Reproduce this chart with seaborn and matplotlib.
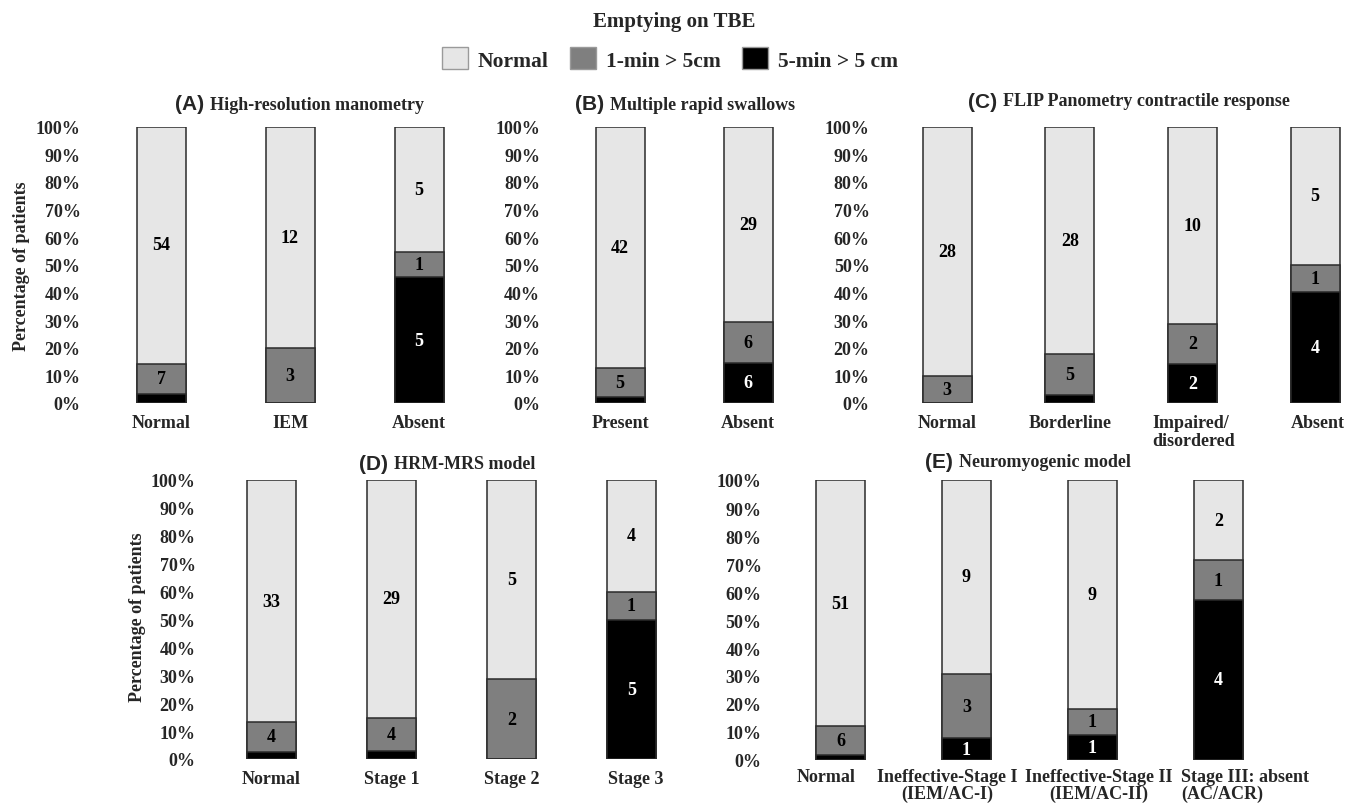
import matplotlib
matplotlib.use("Agg")
import matplotlib.pyplot as plt
from matplotlib.patches import Patch
import pandas as pd
import seaborn as sns

# counts per category: normal emptying, 1-min > 5cm, 5-min > 5 cm
a_cats = ["Normal", "IEM", "Absent"]
a_normal = [54, 12, 5]
a_onemin = [7, 3, 1]
a_fivemin = [2, 0, 5]

b_cats = ["Present", "Absent"]
b_normal = [42, 29]
b_onemin = [5, 6]
b_fivemin = [1, 6]

c_cats = ["Normal", "Borderline", "Impaired/\ndisordered", "Absent"]
c_normal = [28, 28, 10, 5]
c_onemin = [3, 5, 2, 1]
c_fivemin = [0, 1, 2, 4]

d_cats = ["Normal", "Stage 1", "Stage 2", "Stage 3"]
d_normal = [33, 29, 5, 4]
d_onemin = [4, 4, 2, 1]
d_fivemin = [1, 1, 0, 5]

e_cats = ["Normal", "Ineffective-Stage I\n(IEM/AC-I)",
          "Ineffective-Stage II\n(IEM/AC-II)", "Stage III: absent\n(AC/ACR)"]
e_normal = [51, 9, 9, 2]
e_onemin = [6, 3, 1, 1]
e_fivemin = [1, 1, 1, 4]

legend_labels = ["Normal", "1-min > 5cm", "5-min > 5 cm"]
colors = ["#e6e6e6", "#7f7f7f", "#000000"]

W, H = 1348, 804
SERIF = "Liberation Serif"
SANS = "Liberation Sans"

sns.set_style("white")
plt.rcParams["font.family"] = [SERIF, "DejaVu Sans"]
plt.rcParams["font.weight"] = "bold"

fig = plt.figure(figsize=(W / 100, H / 100), dpi=100)


def px_axes(left, right, top, bottom):
    return fig.add_axes([left / W, 1 - bottom / H, (right - left) / W, (bottom - top) / H])


def panel(cats, normal, onemin, fivemin, left, spacing, top, bottom,
          bar_px=49, shifts=None, left_align=(), lab_pad=11, lab_ls=1.05):
    n = len(cats)
    ax = px_axes(left, left + spacing * n, top, bottom)
    df = pd.DataFrame({"cat": cats, "normal": normal, "onemin": onemin, "fivemin": fivemin})
    df["total"] = df["normal"] + df["onemin"] + df["fivemin"]
    df["p_five"] = df["fivemin"] / df["total"]
    df["p_one"] = df["onemin"] / df["total"]
    df["p_norm"] = df["normal"] / df["total"]
    df["cum_one"] = df["p_five"] + df["p_one"]
    df["cum_all"] = df["cum_one"] + df["p_norm"]
    w = bar_px / spacing
    for col, c in zip(["cum_all", "cum_one", "p_five"], colors):
        sns.barplot(data=df, x="cat", y=col, color=c, saturation=1, width=w,
                    edgecolor="#2b2b2b", linewidth=1.1, errorbar=None, ax=ax)
    for i, r in df.iterrows():
        segs = [(0, r["p_five"], r["fivemin"], "white"),
                (r["p_five"], r["p_one"], r["onemin"], "black"),
                (r["cum_one"], r["p_norm"], r["normal"], "black")]
        for base, h, cnt, tc in segs:
            if cnt > 0 and h > 0.05:
                ax.text(i, base + h / 2, str(cnt), ha="center", va="center",
                        fontsize=13, fontweight="bold", color=tc, family=SERIF)
    # category labels drawn as annotations so each can sit like the original
    if shifts is None:
        shifts = [0] * n
    for i, lab in enumerate(cats):
        ax.annotate(lab, xy=(i, 0), xycoords=("data", "axes fraction"),
                    xytext=(shifts[i], -lab_pad), textcoords="offset pixels",
                    ha="center", va="top", fontsize=13, fontweight="bold",
                    family=SERIF, linespacing=lab_ls,
                    multialignment="left" if i in left_align else "center",
                    annotation_clip=False)
    ax.set_xlim(-0.5, n - 0.5)
    ax.set_ylim(0, 1)
    ax.set_xticks([])
    ax.set_yticks([i / 10 for i in range(11)])
    ax.set_yticklabels([f"{i * 10}%" for i in range(11)])
    ax.set_xlabel("")
    ax.set_ylabel("")
    ax.tick_params(axis="both", length=0, labelsize=13)
    ax.tick_params(axis="y", pad=11.5)
    for lab in ax.get_yticklabels():
        lab.set_fontweight("bold")
        lab.set_family(SERIF)
    sns.despine(ax=ax, left=True, bottom=True)
    ax.patch.set_alpha(0)
    return ax


panel(a_cats, a_normal, a_onemin, a_fivemin, 96.5, 129, 127.5, 404)
panel(b_cats, b_normal, b_onemin, b_fivemin, 556, 128, 127.5, 404)
panel(c_cats, c_normal, c_onemin, c_fivemin, 885.7, 122.7, 127.5, 404,
      shifts=[0, 0, 1.5, 3], left_align=(2,))
panel(d_cats, d_normal, d_onemin, d_fivemin, 211.5, 120, 481, 760,
      shifts=[0, 0, 0, 4])
panel(e_cats, e_normal, e_onemin, e_fivemin, 777.5, 126, 481, 761,
      shifts=[-14, -19, 6, 27], left_align=(3,), lab_pad=8, lab_ls=0.98)


def title(prefix, text, split_x, y):
    fig.text((split_x - 2) / W, 1 - y / H, prefix, ha="right", va="center",
             fontsize=15, fontweight="bold", family=SANS)
    fig.text((split_x + 4) / W, 1 - y / H, text, ha="left", va="center",
             fontsize=13, fontweight="bold", family=SERIF)


title("(A)", "High-resolution manometry", 206, 105)
title("(B)", "Multiple rapid swallows", 606, 105)
title("(C)", "FLIP Panometry contractile response", 999, 102)
title("(D)", "HRM-MRS model", 390, 465)
title("(E)", "Neuromyogenic model", 955, 463)

fig.text(22 / W, 1 - 266 / H, "Percentage of patients", rotation=90, ha="center",
         va="center", fontsize=13, fontweight="bold", family=SERIF)
fig.text(138 / W, 1 - 617 / H, "Percentage of patients", rotation=90, ha="center",
         va="center", fontsize=13, fontweight="bold", family=SERIF)

fig.text(0.5, 1 - 22 / H, "Emptying on TBE", ha="center", va="center",
         fontsize=15, fontweight="bold", family=SERIF)
handles = [Patch(facecolor=c, edgecolor="#9a9a9a", linewidth=1) for c in colors]
fig.legend(handles, legend_labels, loc="center", bbox_to_anchor=(0.497, 1 - 60 / H),
           ncol=3, frameon=False,
           prop={"family": SERIF, "weight": "bold", "size": 15.5},
           handlelength=1.2, handleheight=1.2, handletextpad=0.45,
           columnspacing=1.0, borderpad=0.3)

fig.savefig("out.png", dpi=100)
